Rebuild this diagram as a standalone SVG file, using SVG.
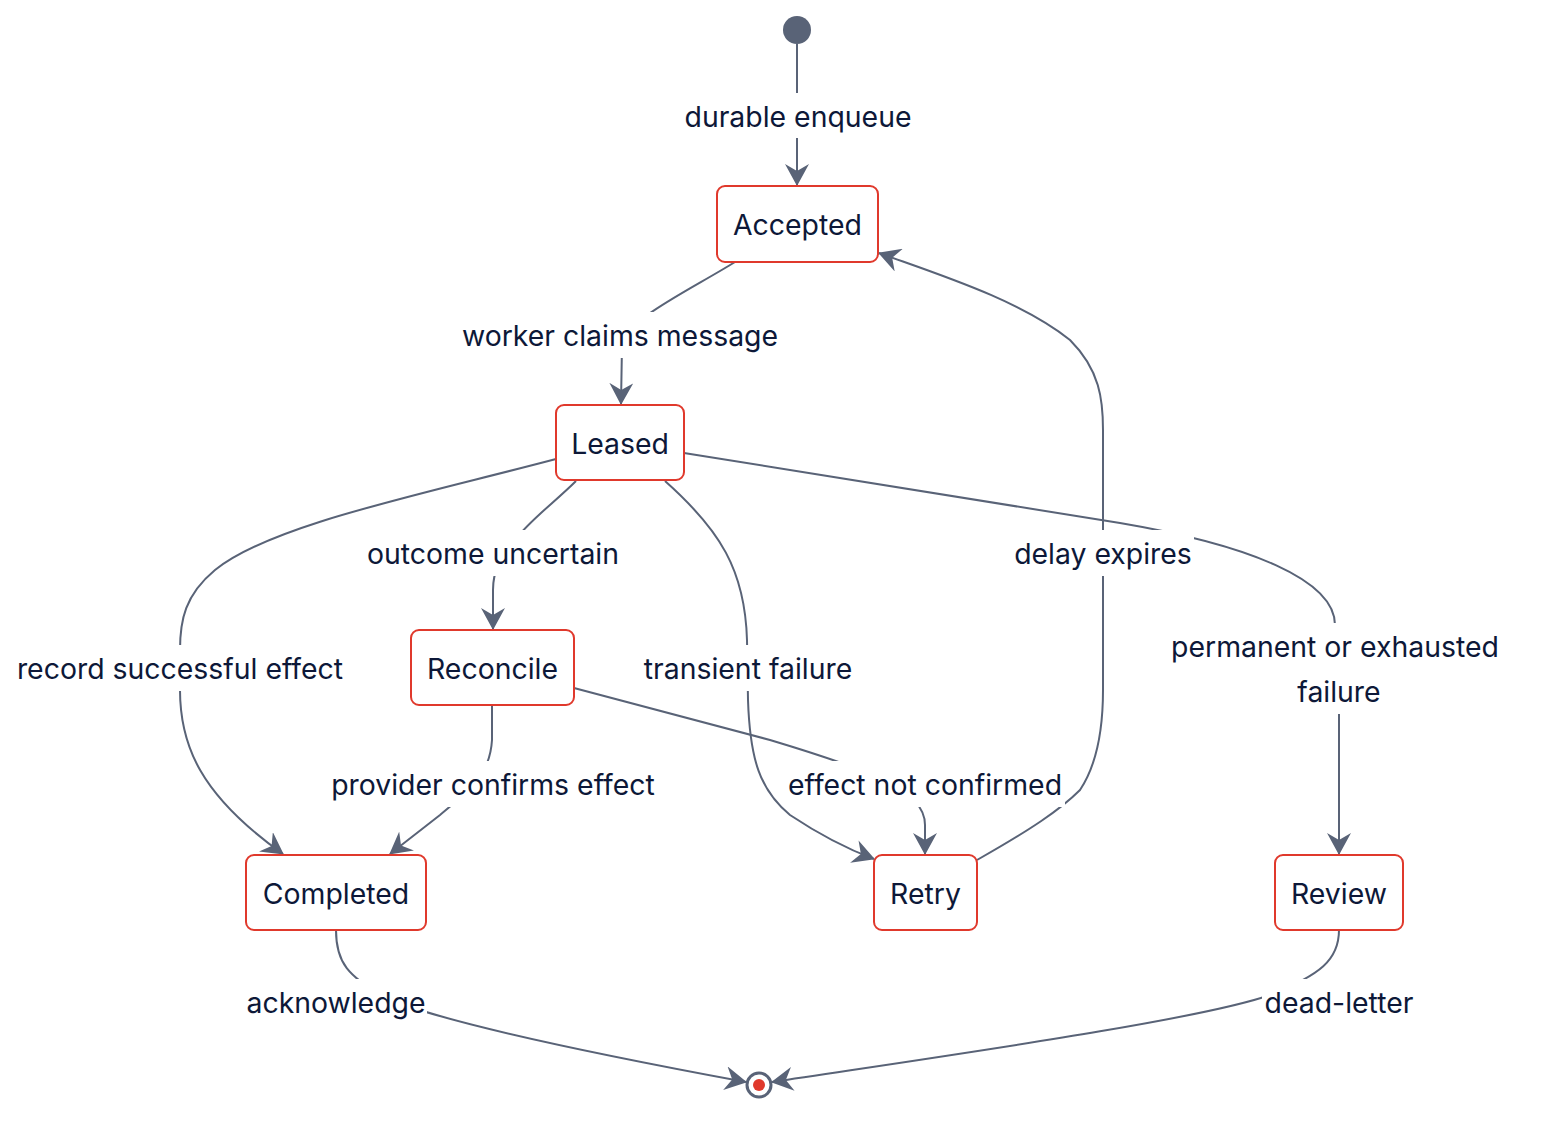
<svg xmlns="http://www.w3.org/2000/svg" width="1568" height="1130" viewBox="0 0 1568 1130">
<style>
.node rect{fill:#fff;stroke:#e0392c;stroke-width:2}
.edge{fill:none;stroke:#596377;stroke-width:2}
text{font-family:Inter,"Noto Sans","Liberation Sans",sans-serif;font-size:28.4px;fill:#0d1838;text-anchor:middle;dominant-baseline:central}
.lbg{fill:#fff}
</style>
<defs>
<marker id="arr" viewBox="0 0 22 24" refX="21" refY="12" markerWidth="22" markerHeight="24" markerUnits="userSpaceOnUse" orient="auto">
<path d="M0,0 L22,12 L0,24 L7,12 Z" fill="#596377"/>
</marker>
</defs>
<rect width="1568" height="1130" fill="#fff"/>
<g id="connectors">
<path class="edge" d="M797,44 L797,185" marker-end="url(#arr)"/>
<path class="edge" d="M735,262 C690,290 625,320 622,345 L621,404" marker-end="url(#arr)"/>
<path class="edge" d="M556,459 C420,495 270,525 215,570 C185,595 180,620 180,650 L180,690 C180,745 200,795 283,854" marker-end="url(#arr)"/>
<path class="edge" d="M576,481 C555,502 530,520 515,540 C500,560 493,570 493,590 L493,629" marker-end="url(#arr)"/>
<path class="edge" d="M665,481 C720,530 745,570 747,640 L748,700 C750,760 760,790 790,815 C820,835 850,850 874,859" marker-end="url(#arr)"/>
<path class="edge" d="M684,453 L1120,523 C1250,545 1335,580 1335,625 L1339,700 L1339,854" marker-end="url(#arr)"/>
<path class="edge" d="M492,705 L492,740 C490,775 470,790 440,815 L390,854" marker-end="url(#arr)"/>
<path class="edge" d="M574,688 L770,740 C870,770 925,790 925,825 L925,854" marker-end="url(#arr)"/>
<path class="edge" d="M977,860 C1030,830 1060,810 1080,790 C1100,760 1103,720 1103,690 L1103,430 C1103,400 1100,370 1070,340 C1020,300 940,275 879,253" marker-end="url(#arr)"/>
<path class="edge" d="M336,930 C336,965 350,975 380,995 C430,1020 600,1055 746,1082" marker-end="url(#arr)"/>
<path class="edge" d="M1339,930 C1339,960 1320,975 1270,995 C1200,1020 950,1055 772,1082" marker-end="url(#arr)"/>
</g>
<g id="labels">
<rect class="lbg" x="683" y="93" width="230" height="45"/><text x="798" y="116">durable enqueue</text>
<rect class="lbg" x="461" y="312" width="319" height="46"/><text x="620" y="335">worker claims message</text>
<rect class="lbg" x="365" y="530" width="256" height="46"/><text x="493" y="553">outcome uncertain</text>
<rect class="lbg" x="14" y="645" width="331" height="46"/><text x="180" y="668">record successful effect</text>
<rect class="lbg" x="641" y="645" width="214" height="46"/><text x="748" y="668">transient failure</text>
<rect class="lbg" x="1013" y="530" width="181" height="46"/><text x="1103" y="553">delay expires</text>
<rect class="lbg" x="1169" y="623" width="333" height="91"/><text x="1335" y="646">permanent or exhausted</text><text x="1339" y="691">failure</text>
<rect class="lbg" x="329" y="761" width="328" height="46"/><text x="493" y="784">provider confirms effect</text>
<rect class="lbg" x="786" y="761" width="279" height="46"/><text x="925" y="784">effect not confirmed</text>
<rect class="lbg" x="246" y="979" width="181" height="46"/><text x="336" y="1002">acknowledge</text>
<rect class="lbg" x="1262" y="979" width="155" height="46"/><text x="1339" y="1002">dead-letter</text>
</g>
<g id="start"><circle cx="797" cy="30" r="14" fill="#596377"/></g>
<g id="accepted" class="node"><rect x="717" y="186" width="161" height="76" rx="8"/><text x="797.5" y="224">Accepted</text></g>
<g id="leased" class="node"><rect x="556" y="405" width="128" height="75" rx="8"/><text x="620" y="443">Leased</text></g>
<g id="reconcile" class="node"><rect x="411" y="630" width="163" height="75" rx="8"/><text x="492.5" y="668">Reconcile</text></g>
<g id="completed" class="node"><rect x="246" y="855" width="180" height="75" rx="8"/><text x="336" y="893">Completed</text></g>
<g id="retry" class="node"><rect x="874" y="855" width="103" height="75" rx="8"/><text x="925.5" y="893">Retry</text></g>
<g id="review" class="node"><rect x="1275" y="855" width="128" height="75" rx="8"/><text x="1339" y="893">Review</text></g>
<g id="end"><circle cx="759" cy="1085" r="12" fill="#fff" stroke="#596377" stroke-width="3"/><circle cx="759" cy="1085" r="6" fill="#e0392c"/></g>
</svg>
